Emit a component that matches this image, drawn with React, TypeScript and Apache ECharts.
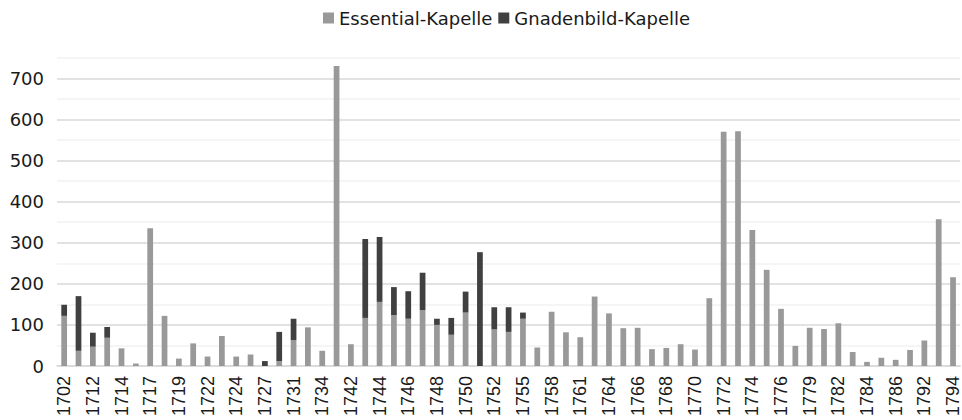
import React, { useEffect, useRef } from "react";
import * as echarts from "echarts";

const years = [
  "1702", "1711", "1712", "1713", "1714", "1716", "1717", "1718", "1719", "1720",
  "1722", "1723", "1724", "1725", "1727", "1730", "1731", "1732", "1734", "1741",
  "1742", "1743", "1744", "1745", "1746", "1747", "1748", "1749", "1750", "1751",
  "1752", "1754", "1755", "1757", "1758", "1760", "1761", "1763", "1764", "1765",
  "1766", "1767", "1768", "1769", "1770", "1771", "1772", "1773", "1774", "1775",
  "1776", "1778", "1779", "1781", "1782", "1783", "1784", "1785", "1786", "1787",
  "1792", "1793", "1794",
];

const essential = [
  122, 37, 47, 69, 43, 6, 335, 122, 18, 55,
  23, 73, 23, 28, 0, 12, 63, 94, 37, 730,
  53, 117, 156, 124, 115, 136, 100, 76, 130, 0,
  89, 83, 115, 45, 132, 82, 70, 169, 128, 92,
  93, 41, 44, 53, 40, 165, 570, 571, 331, 234,
  139, 49, 93, 90, 104, 34, 10, 20, 15, 39,
  62, 357, 216,
];

const gnadenbild = [
  27, 133, 34, 26, 0, 0, 0, 0, 0, 0,
  0, 0, 0, 0, 12, 71, 52, 0, 0, 0,
  0, 192, 158, 68, 67, 91, 15, 41, 51, 277,
  54, 60, 15, 0, 0, 0, 0, 0, 0, 0,
  0, 0, 0, 0, 0, 0, 0, 0, 0, 0,
  0, 0, 0, 0, 0, 0, 0, 0, 0, 0,
  0, 0, 0,
];

const seriesNames = ["Essential-Kapelle", "Gnadenbild-Kapelle"];
const seriesColors = ["#999999", "#404040"];

export default function App() {
  const ref = useRef<HTMLDivElement>(null);
  useEffect(() => {
    const chart = echarts.init(ref.current!, null, { renderer: "svg" });
    chart.setOption({
      animation: false,
      legend: {
        top: 4,
        left: 318,
        itemWidth: 11,
        itemHeight: 11,
        itemGap: 6,
        icon: "rect",
        textStyle: { fontFamily: "DejaVu Sans", fontSize: 18, color: "#1a1a1a" },
        data: seriesNames,
      },
      grid: { left: 57, right: -3, top: 57.8, bottom: 54, containLabel: false },
      xAxis: {
        type: "category",
        data: years,
        axisLine: { lineStyle: { color: "#d9d9d9", width: 1.5 } },
        axisTick: { show: false },
        axisLabel: {
          interval: 1,
          rotate: 90,
          margin: 10,
          fontFamily: "Liberation Sans",
          fontSize: 18,
          color: "#1a1a1a",
        },
      },
      yAxis: {
        type: "value",
        min: 0,
        max: 750,
        interval: 50,
        axisLine: { show: false },
        axisTick: { show: false },
        axisLabel: {
          margin: 13,
          fontFamily: "DejaVu Sans",
          fontSize: 18,
          color: "#1a1a1a",
          formatter: (v: number) => (v % 100 === 0 ? String(v) : ""),
        },
        splitLine: { lineStyle: { color: ["#d9d9d9", "#f2f2f2"], width: 1.5 } },
      },
      series: [
        {
          name: seriesNames[0],
          type: "bar",
          stack: "total",
          barWidth: "40%",
          itemStyle: { color: seriesColors[0] },
          data: essential,
        },
        {
          name: seriesNames[1],
          type: "bar",
          stack: "total",
          barWidth: "40%",
          itemStyle: { color: seriesColors[1] },
          data: gnadenbild,
        },
      ],
    });
    return () => chart.dispose();
  }, []);
  return (
    <div
      ref={ref}
      style={{ position: "absolute", left: 0, top: 0, width: 962, height: 420, background: "#fff" }}
    />
  );
}
